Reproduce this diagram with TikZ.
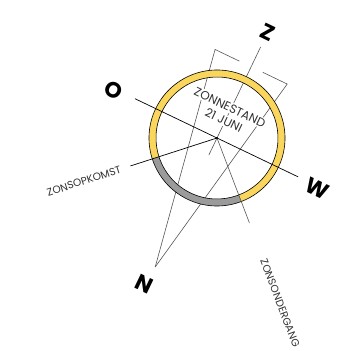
\documentclass[tikz,border=0pt]{standalone}
\usepackage{fontspec}
\setmainfont{Poppins}
\definecolor{sunyellow}{RGB}{250,214,92}
\definecolor{nightgray}{RGB}{155,155,155}
\definecolor{linegray}{RGB}{85,85,85}
\definecolor{textgray}{RGB}{50,50,50}
\usepackage{tikz}
\usetikzlibrary{calc}

\begin{document}
\begin{tikzpicture}[x=1pt,y=1pt,
    thinline/.style={draw=linegray,line width=0.6pt},
    axisline/.style={draw=black,line width=0.7pt},
    windlabel/.style={font=\fontsize{22}{22}\selectfont\bfseries,inner sep=0pt},
    sunlabel/.style={font=\fontsize{10.5}{12}\selectfont,text=textgray,inner sep=1pt},
    datelabel/.style={font=\fontsize{12}{14}\selectfont,text=textgray,fill=white,inner sep=1.2pt}
  ]
  \useasboundingbox (0,0) rectangle (339,351);
  \begin{scope}[shift={(217,213)},rotate=-25.6,transform shape]
    % reference points
    \coordinate (c) at (0,0);
    \coordinate (n) at (0,-143);
    \coordinate (b1) at (-40,79);  \coordinate (b1e) at (-13,79);
    \coordinate (b2) at (40,79);   \coordinate (b2e) at (13,79);
    \coordinate (zt) at (0,101);   \coordinate (zb) at (0,-19);
    \coordinate (o) at (-91,0);    \coordinate (w) at (90,0);
    \coordinate (rise) at (223.5:91);
    \coordinate (set) at (316.5:91);
    % sight lines to N
    \draw[thinline] (b1e) -- (b1) -- (n);
    \draw[thinline] (b2e) -- (b2) -- (n);
    \draw[thinline] (zb) -- (zt);
    % ring
    \fill[sunyellow] (-43.5:68) arc (-43.5:223.5:68) -- (223.5:61) arc (223.5:-43.5:61) -- cycle;
    \fill[nightgray] (223.5:68) arc (223.5:316.5:68) -- (316.5:61) arc (316.5:223.5:61) -- cycle;
    \draw[line width=0.6pt] (c) circle (68) (c) circle (61);
    % axis and sun lines
    \draw[axisline] (o) -- (w);
    \draw[axisline] (c) -- (rise);
    \draw[thinline] (c) -- (set);
    \fill (c) circle (1.1);
    % labels
    \node[windlabel] (lz) at (0,117) {Z};
    \node[windlabel] (lo) at (-114,-2) {O};
    \node[windlabel] (lw) at (112,-2) {W};
    \node[windlabel] (ln) at (-3,-163) {N};
    \node[datelabel] (stand) at (-1.5,33) {ZONNESTAND};
    \node[datelabel] (date) at (-1.5,19) {21 JUNI};
    \node[sunlabel,anchor=east,rotate=43.5] (lrise) at (223.5:100) {ZONSOPKOMST};
    \node[sunlabel,anchor=west,rotate=-43.5] (lset) at (316.5:129) {ZONSONDERGANG};
  \end{scope}
\end{tikzpicture}
\end{document}
